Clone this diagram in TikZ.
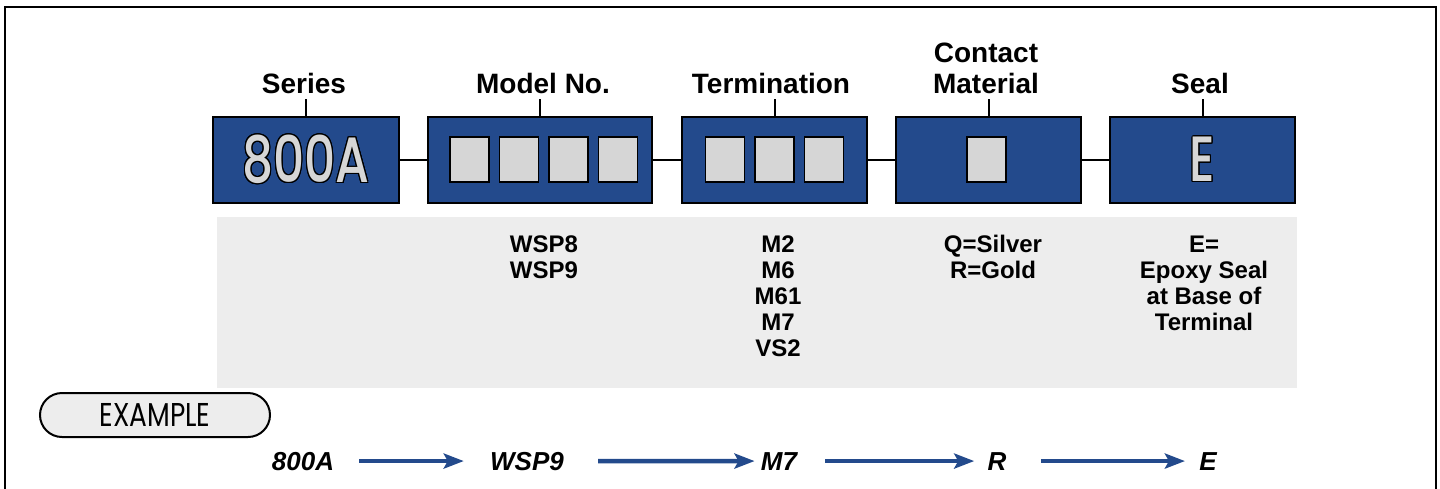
\documentclass[tikz,border=0pt]{standalone}
\usepackage{fontspec}
\setmainfont{Liberation Sans}
\newfontfamily\geofont{Poppins}
\newfontfamily\geomedium{Poppins Medium}
\usepackage[copies]{contour}
\contourlength{0.7pt}
\usetikzlibrary{arrows.meta}
\definecolor{partblue}{RGB}{35,74,140}
\definecolor{panelgray}{RGB}{237,237,237}
\definecolor{slotgray}{RGB}{214,214,214}
\newcommand{\bigcode}[1]{\scalebox{0.76}[1]{\geomedium\fontsize{32}{32}\selectfont\color{slotgray}\contour{black}{#1}}}
\begin{document}
\begin{tikzpicture}[x=0.5pt,y=-0.5pt,
  codebox/.style={draw=black,line width=1pt,fill=partblue,minimum height=43pt,inner sep=0pt},
  slot/.style={draw=black,line width=0.6pt,fill=slotgray,minimum width=19.5pt,minimum height=22.5pt,inner sep=0pt},
  head/.style={font=\bfseries\fontsize{14}{15.5}\selectfont,inner sep=0pt,anchor=base,align=center},
  opts/.style={font=\bfseries\fontsize{12}{13}\selectfont,inner sep=0pt,anchor=base,align=center},
  pick/.style={font=\bfseries\itshape\fontsize{13}{13}\selectfont,inner sep=0pt,anchor=base},
  link/.style={line width=1pt},
  flow/.style={draw=partblue,line width=2.2pt,-{Stealth[length=10pt,width=7.5pt,inset=2pt]}}]
   \useasboundingbox (0,0) rectangle (1440,488);
   \draw[line width=1.3pt] (5,490) -- (5,7) -- (1436,7) -- (1436,490);

   \node[codebox,minimum width=93pt]   (series)  at (306,160)    {\bigcode{800A}};
   \node[codebox,minimum width=112pt]  (model)   at (540,160)    {};
   \node[codebox,minimum width=92.5pt] (term)    at (774.5,160)  {};
   \node[codebox,minimum width=92.5pt] (contact) at (988.5,160)  {};
   \node[codebox,minimum width=92.5pt] (seal)    at (1202.5,160) {\bigcode{E}};

   \foreach \sx [count=\i] in {469.5,519,568.5,618}
     \node[slot] (m\i) at (\sx,159.5) {};
   \foreach \sx [count=\i] in {725,774.5,824}
     \node[slot] (t\i) at (\sx,159.5) {};
   \node[slot] (c1) at (986.5,159.5) {};

   \draw[link] (series) -- (model);
   \draw[link] (model) -- (term);
   \draw[link] (term) -- (contact);
   \draw[link] (contact) -- (seal);

   \node[head] (serieslbl)  at (304,93)  {Series};
   \node[head] (modellbl)   at (543,93)  {Model No.};
   \node[head] (termlbl)    at (771,93)  {Termination};
   \node[head] (contactlbl) at (986,93)  {Contact\\Material};
   \node[head] (seallbl)    at (1200,93) {Seal};

   \draw[link] (series.north)  -- ++(0,-17);
   \draw[link] (model.north)   -- ++(0,-17);
   \draw[link] (term.north)    -- ++(0,-17);
   \draw[link] (contact.north) -- ++(0,-17);
   \draw[link] (seal.north)    -- ++(0,-17);

   \fill[panelgray] (217,217) rectangle (1297,388);
   \node[opts] (modelopts)   at (544,278)  {WSP8\\WSP9};
   \node[opts] (termopts)    at (778,356)  {M2\\M6\\M61\\M7\\VS2};
   \node[opts] (contactopts) at (993,278)  {Q=Silver\\R=Gold};
   \node[opts] (sealopts)    at (1204,330) {E=\\Epoxy Seal\\at Base of\\Terminal};

   \node[draw=black,line width=1pt,fill=panelgray,rounded corners=11pt,minimum width=115pt,minimum height=22pt]
     (exlabel) at (155,415) {\scalebox{0.8}[1]{\geofont\fontsize{16.5}{16.5}\selectfont EXAMPLE}};

   \node[pick] (exseries)  at (303,470)  {800A};
   \node[pick] (exmodel)   at (527,470)  {WSP9};
   \node[pick] (exterm)    at (779,470)  {M7};
   \node[pick] (excontact) at (997,470)  {R};
   \node[pick] (exseal)    at (1208,470) {E};

   \draw[flow,shorten <=12.5pt,shorten >=13pt] (exseries) -- (exmodel);
   \draw[flow,shorten <=17pt,shorten >=3pt]   (exmodel) -- (exterm);
   \draw[flow,shorten <=14pt,shorten >=6.5pt] (exterm) -- (excontact);
   \draw[flow,shorten <=17pt,shorten >=7pt]   (excontact) -- (exseal);
\end{tikzpicture}
\end{document}
